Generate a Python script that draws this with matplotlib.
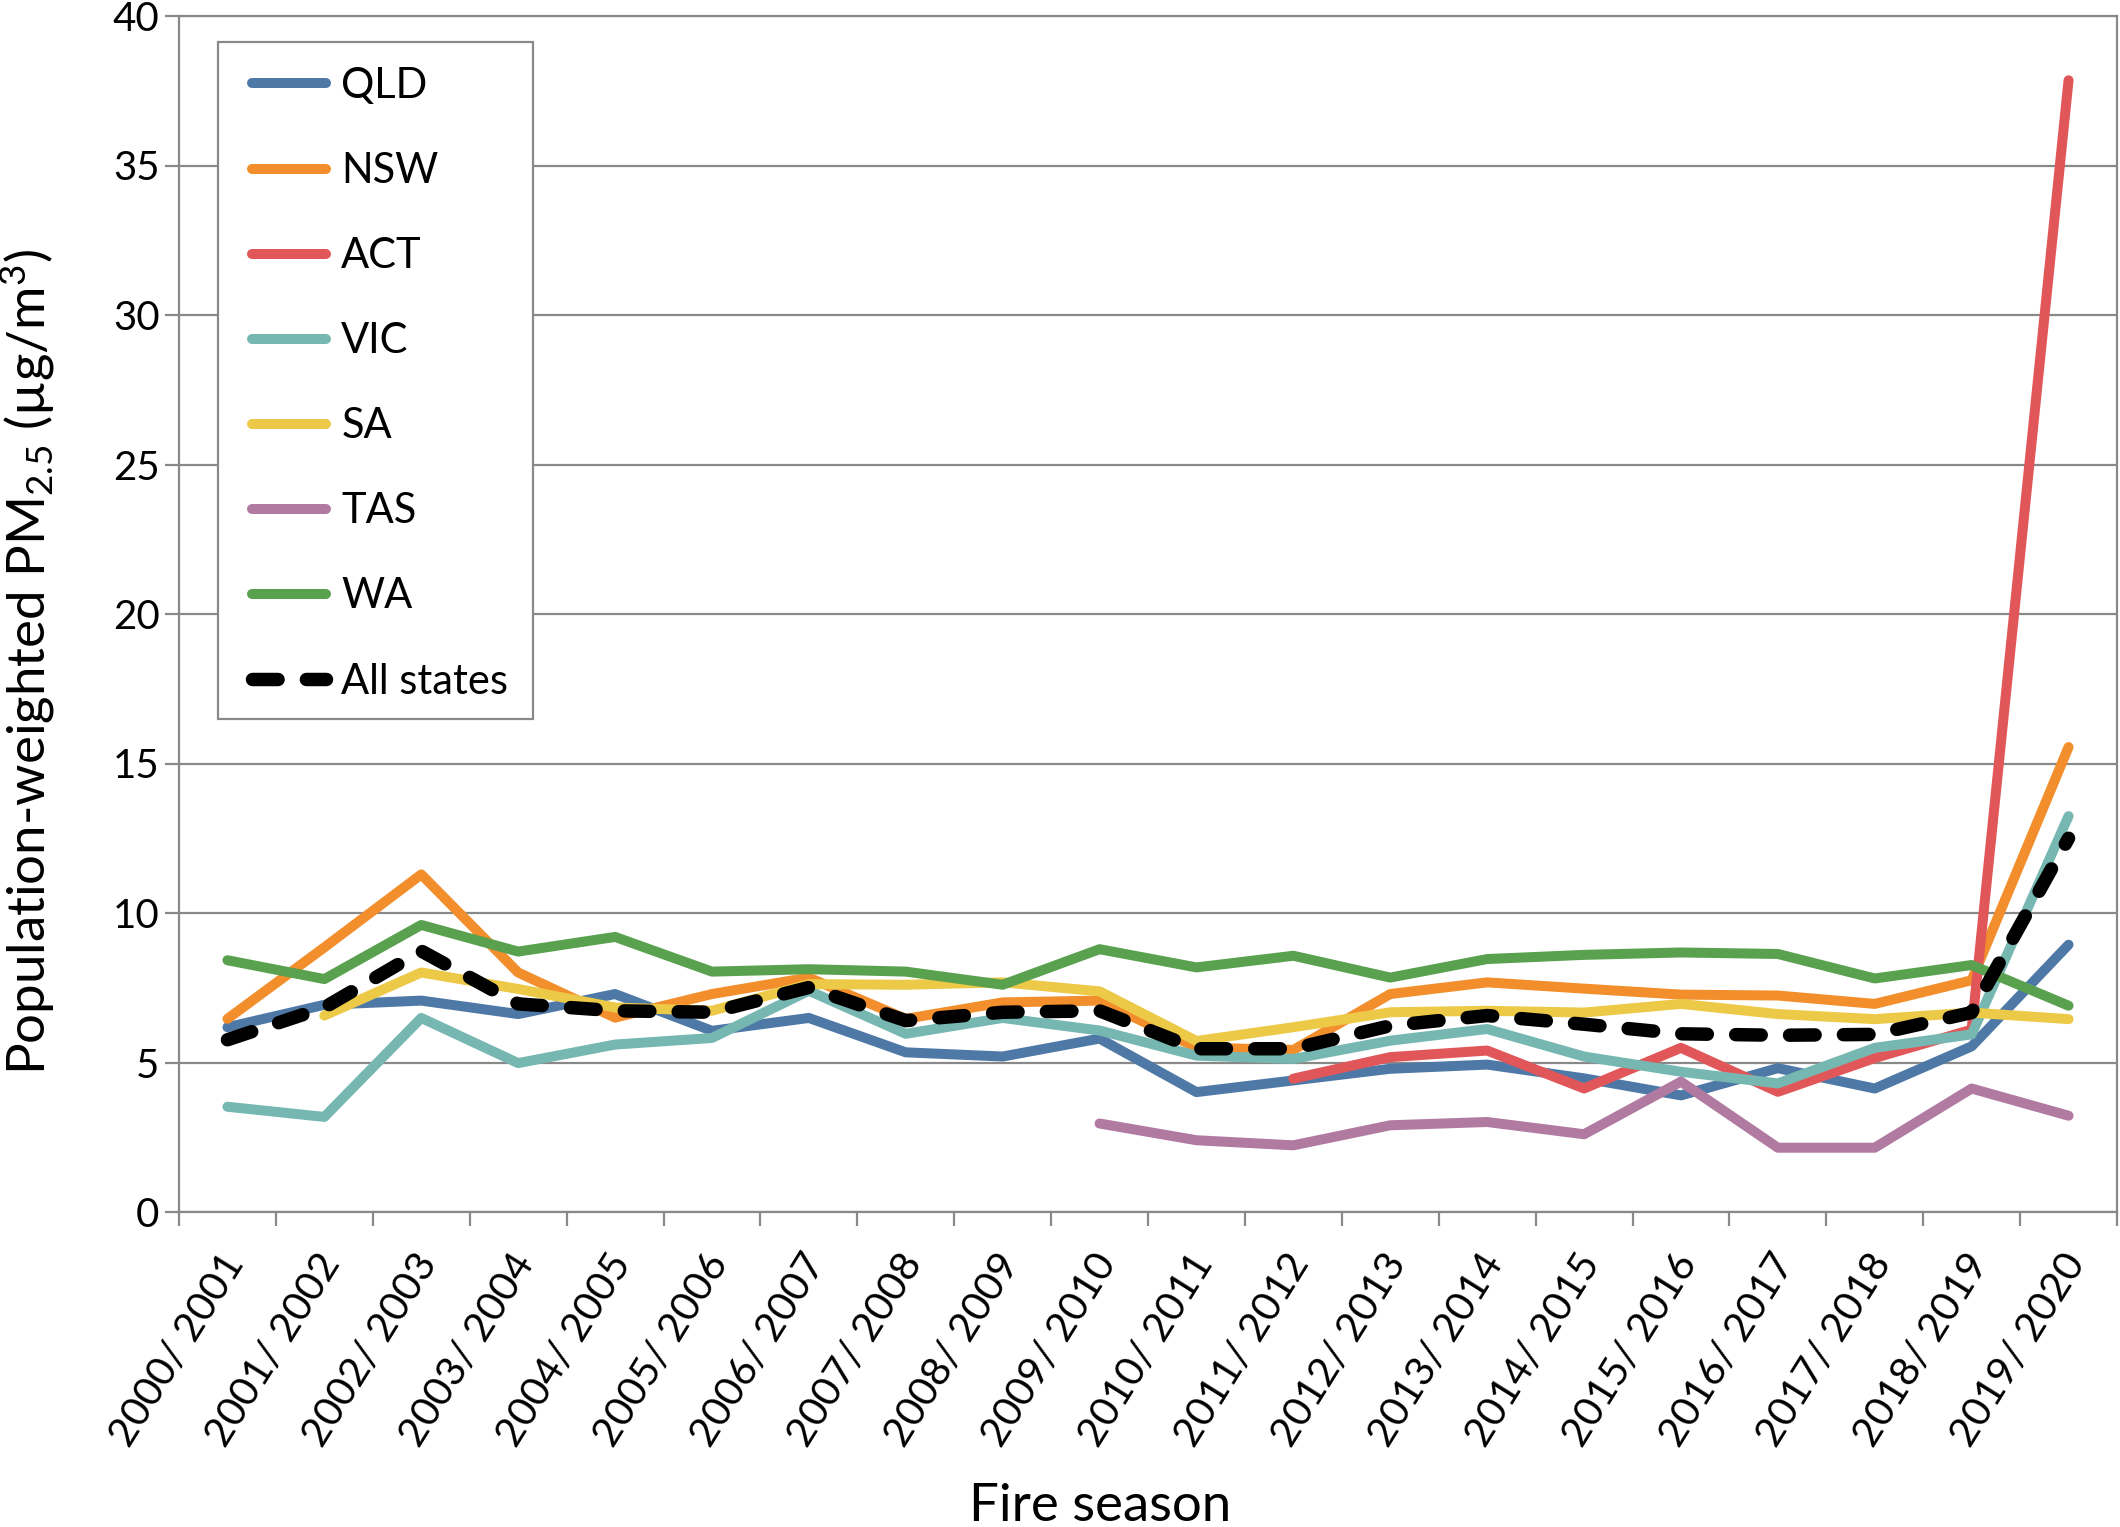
import matplotlib
matplotlib.use("Agg")
import matplotlib.pyplot as plt
import matplotlib.transforms as mtransforms
from matplotlib.patches import Rectangle
import numpy as np

seasons = ["2000/ 2001", "2001/ 2002", "2002/ 2003", "2003/ 2004", "2004/ 2005",
           "2005/ 2006", "2006/ 2007", "2007/ 2008", "2008/ 2009", "2009/ 2010",
           "2010/ 2011", "2011/ 2012", "2012/ 2013", "2013/ 2014", "2014/ 2015",
           "2015/ 2016", "2016/ 2017", "2017/ 2018", "2018/ 2019", "2019/ 2020"]
N = None
qld = [6.18, 6.93, 7.07, 6.62, 7.29, 6.06, 6.49, 5.34, 5.20, 5.80,
       4.01, 4.40, 4.79, 4.93, 4.47, 3.90, 4.81, 4.13, 5.54, 8.94]
nsw = [6.46, 8.85, 11.29, 8.01, 6.50, 7.29, 7.84, 6.46, 7.01, 7.07,
       5.50, 5.42, 7.29, 7.68, 7.47, 7.27, 7.24, 6.96, 7.75, 15.55]
act = [N, N, N, N, N, N, N, N, N, N,
       N, 4.46, 5.18, 5.40, 4.13, 5.49, 4.02, 5.15, 6.10, 37.85]
vic = [3.52, 3.18, 6.49, 4.98, 5.60, 5.82, 7.40, 5.96, 6.49, 6.07,
       5.23, 5.12, 5.73, 6.12, 5.20, 4.69, 4.30, 5.49, 5.94, 13.24]
sa = [N, 6.57, 8.01, 7.46, 6.84, 6.73, 7.62, 7.60, 7.68, 7.38,
      5.72, 6.18, 6.68, 6.73, 6.67, 6.96, 6.62, 6.45, 6.67, 6.45]
tas = [N, N, N, N, N, N, N, N, N, 2.96,
       2.40, 2.23, 2.90, 3.01, 2.60, 4.36, 2.15, 2.15, 4.13, 3.22]
wa = [8.42, 7.79, 9.60, 8.71, 9.20, 8.04, 8.12, 8.04, 7.60, 8.79,
      8.18, 8.57, 7.84, 8.46, 8.60, 8.68, 8.63, 7.81, 8.26, 6.90]
all_states = [5.76, 6.84, 8.73, 6.96, 6.73, 6.68, 7.51, 6.40, 6.68, 6.73,
              5.46, 5.46, 6.23, 6.57, 6.28, 5.96, 5.91, 5.94, 6.67, 12.50]

series_names = ["QLD", "NSW", "ACT", "VIC", "SA", "TAS", "WA"]
series_vals = [qld, nsw, act, vic, sa, tas, wa]
series_colors = ["#4E79A7", "#F28E2B", "#E15759", "#76B7B2", "#EDC948", "#B07AA1", "#59A14F"]

plt.rcParams["font.family"] = ["Lato", "DejaVu Sans"]
plt.rcParams["mathtext.default"] = "regular"

W, H = 2120, 1527
fig = plt.figure(figsize=(W / 100, H / 100), dpi=100)
AX_L, AX_R, AX_T, AX_B = 179, 2117, 16, 1212
ax = fig.add_axes([AX_L / W, 1 - AX_B / H, (AX_R - AX_L) / W, (AX_B - AX_T) / H])
def fx(px):
    return (px - AX_L) / (AX_R - AX_L)
def fy(py):
    return (AX_B - py) / (AX_B - AX_T)

x = np.arange(len(seasons))
def arr(v):
    return np.array([np.nan if a is None else a for a in v], dtype=float)

for name, vals, col in zip(series_names, series_vals, series_colors):
    ax.plot(x, arr(vals), color=col, lw=7.2, label=name,
            solid_capstyle="round", solid_joinstyle="round")
ax.plot(x, arr(all_states), color="black", lw=9.7, label="All states",
        linestyle=(0, (1.9, 2.1)), dash_capstyle="round", dash_joinstyle="round")

gray = "#898989"
ax.set_xlim(-0.5, len(seasons) - 0.5)
ax.set_ylim(0, 40)
ax.set_yticks(np.arange(0, 41, 5))
ax.yaxis.grid(True, color=gray, lw=1.6)
ax.set_axisbelow(True)
for s in ax.spines.values():
    s.set_color(gray)
    s.set_linewidth(1.6)
ax.tick_params(axis="y", direction="out", length=10, width=1.6, color=gray,
               labelsize=29, pad=4)
ax.set_xticks(np.arange(-0.5, len(seasons), 1.0))
ax.set_xticklabels([])
ax.tick_params(axis="x", direction="out", length=10, width=1.6, color=gray)

off = mtransforms.ScaledTranslation(-8 / 100, -35 / 100, fig.dpi_scale_trans)
trans = mtransforms.blended_transform_factory(ax.transData, ax.transAxes) + off
for xi, lab in zip(x, seasons):
    ax.text(xi, 0, lab, transform=trans, rotation=58, rotation_mode="anchor",
            ha="right", va="top", fontsize=29.5)

ax.set_ylabel("Population-weighted PM$_{2.5}$ (µg/m$^{3}$)", fontsize=38)
ax.yaxis.set_label_coords(fx(57), 0.46)
fig.text(1100 / W, 6 / H, "Fire season", ha="center", va="baseline", fontsize=38)

# legend box
box = Rectangle((fx(218), fy(719)), fx(533) - fx(218), fy(42) - fy(719),
                transform=ax.transAxes, facecolor="white", edgecolor=gray,
                lw=1.6, zorder=4)
ax.add_patch(box)
leg = ax.legend(loc="upper left", bbox_to_anchor=(fx(252), fy(67)), borderaxespad=0,
                fontsize=30, handlelength=1.78, handletextpad=0.36, labelspacing=1.13,
                borderpad=0, frameon=False)
leg.set_zorder(5)

fig.savefig("out.png", dpi=100)
